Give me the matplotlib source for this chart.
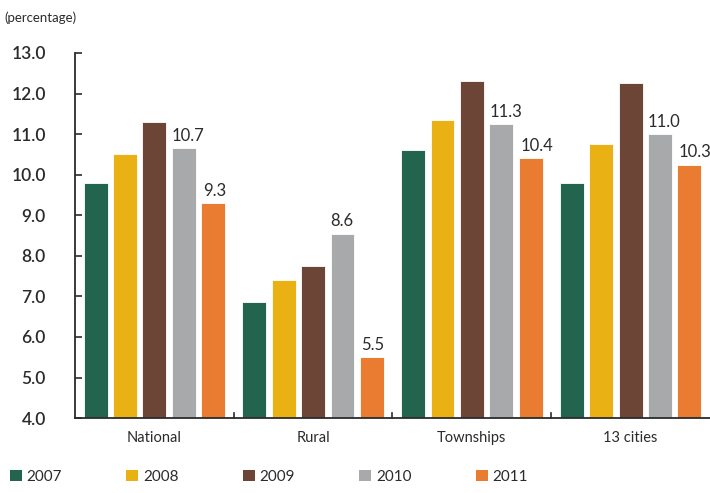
import matplotlib
matplotlib.use("Agg")
import matplotlib.pyplot as plt
import numpy as np
from matplotlib.patches import Patch

plt.rcParams["font.family"] = ["Lato", "DejaVu Sans"]

categories = ["National", "Rural", "Townships", "13 cities"]
years = ["2007", "2008", "2009", "2010", "2011"]
values = {
    "2007": [9.8, 6.85, 10.6, 9.8],
    "2008": [10.5, 7.4, 11.35, 10.75],
    "2009": [11.3, 7.75, 12.3, 12.25],
    "2010": [10.65, 8.55, 11.25, 11.0],
    "2011": [9.3, 5.5, 10.4, 10.25],
}
labels_2010 = ["10.7", "8.6", "11.3", "11.0"]
labels_2011 = ["9.3", "5.5", "10.4", "10.3"]
yticks = [4.0, 5.0, 6.0, 7.0, 8.0, 9.0, 10.0, 11.0, 12.0, 13.0]

COLORS = {"2007": "#22644e", "2008": "#eab114", "2009": "#6c4537",
          "2010": "#a8a9ab", "2011": "#e97c30"}
INK = "#2b2b2b"

fig = plt.figure(figsize=(7.1, 4.93), dpi=100)
ax = fig.add_axes([0.1056, 0.152, 0.8944, 0.7405])

x = np.arange(len(categories))
width = 0.15
step = 0.185
for i, yr in enumerate(years):
    pos = x + (i - 2) * step
    ax.bar(pos, np.array(values[yr]) - 4.0, width, bottom=4.0,
           color=COLORS[yr], edgecolor="white", linewidth=0.6, zorder=2)
    if yr == "2010":
        for p, v, t in zip(pos, values[yr], labels_2010):
            ax.text(p - width / 2, v + 0.1, t, ha="left", va="bottom",
                    fontsize=12, color=INK)
    if yr == "2011":
        for p, v, t in zip(pos, values[yr], labels_2011):
            ax.text(p - width / 2 + 0.01, v + 0.1, t, ha="left", va="bottom",
                    fontsize=12, color=INK)

ax.set_xlim(-0.5, len(categories) - 0.5)
ax.set_ylim(4.0, 13.0)
ax.set_yticks(yticks)
ax.set_yticklabels([f"{t:.1f}" for t in yticks], fontsize=12.5,
                   fontweight="semibold", color=INK)
ax.tick_params(axis="y", direction="in", length=5, width=1.2, pad=21,
               colors=INK)
ax.set_xticks(x)
ax.set_xticklabels(categories, fontsize=10.5, color=INK)
ax.tick_params(axis="x", length=0, pad=9)
for sep in x[1:] - 0.5:
    ax.plot([sep, sep], [4.0, 4.12], color=INK, linewidth=1.2, clip_on=False)
for s in ["top", "right"]:
    ax.spines[s].set_visible(False)
for s in ["left", "bottom"]:
    ax.spines[s].set_color(INK)
    ax.spines[s].set_linewidth(1.3)

fig.text(0.006, 0.965, "(percentage)", fontsize=9.5, color=INK, va="center")

handles = [Patch(facecolor=COLORS[yr], label=yr) for yr in years]
fig.legend(handles=handles, loc="center left", bbox_to_anchor=(0.005, 0.033),
           ncol=5, frameon=False, fontsize=11, handlelength=0.8,
           handleheight=0.8, handletextpad=0.3, columnspacing=4.2,
           labelcolor=INK, borderaxespad=0)

fig.savefig("out.png", dpi=100, facecolor="white")
